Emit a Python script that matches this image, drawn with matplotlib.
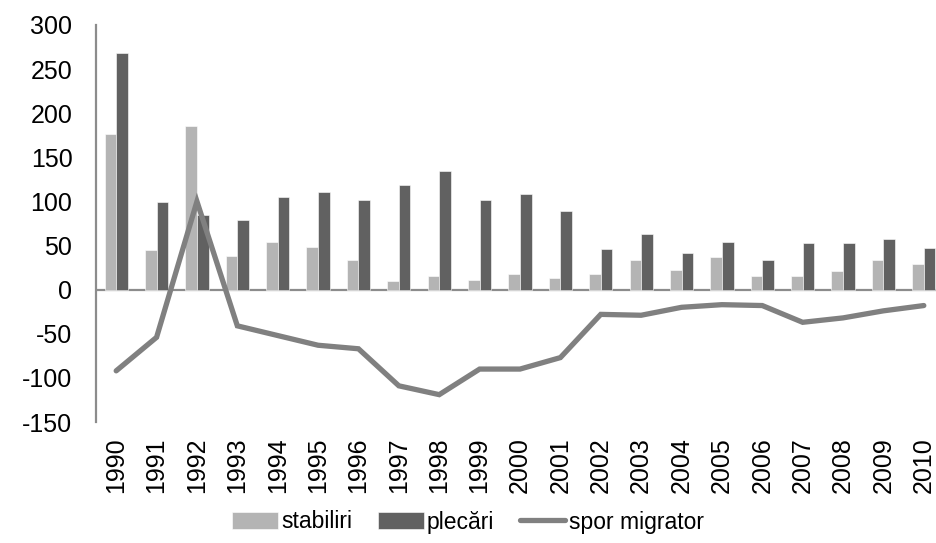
import numpy as np
import matplotlib; matplotlib.use("Agg")
import matplotlib.pyplot as plt

plt.rcParams['font.family'] = ['Liberation Sans', 'DejaVu Sans']
plt.rcParams['axes.unicode_minus'] = False

years = [str(y) for y in range(1990, 2011)]
stabiliri = [176, 45, 185, 38, 54, 48, 34, 10, 15, 11, 18, 13, 18, 34, 22, 37, 15, 16, 21, 34, 29]
plecari = [268, 99, 85, 79, 105, 111, 102, 119, 134, 102, 109, 89, 46, 63, 41, 54, 34, 53, 53, 57, 47]
spor = [-92, -54, 100, -41, -52, -63, -67, -109, -119, -90, -90, -77, -28, -29, -20, -17, -18, -37, -32, -24, -18]

LIGHT = "#b4b4b4"; DARK = "#616161"; LINE = "#808080"; AXC = "#8c8c8c"

fig = plt.figure(figsize=(9.37, 5.43), dpi=100)
ax = fig.add_axes([96/937, 1-422/543, (944-96)/937, (422-25)/543])
x = np.arange(len(years)); w = 0.288
b1 = ax.bar(x - w/2, stabiliri, w, color=LIGHT, edgecolor="white", linewidth=0.4, label="stabiliri", zorder=2)
b2 = ax.bar(x + w/2, plecari, w, color=DARK, edgecolor="white", linewidth=0.4, label="plecări", zorder=2)
l1, = ax.plot(x, spor, color=LINE, lw=3.8, solid_capstyle="round", solid_joinstyle="miter", label="spor migrator", zorder=3)
ax.axhline(0, color=AXC, lw=1.6, zorder=1)

ax.set_xlim(-0.5, len(years) - 0.5)
ax.set_ylim(-150, 300)
ax.set_yticks(range(-150, 301, 50))
ax.set_xticks(x)
ax.set_xticklabels(years, rotation=90)
ax.tick_params(axis="y", length=0, pad=17, labelsize=18)
ax.tick_params(axis="x", length=0, pad=11, labelsize=18)
for s in ["top", "right", "bottom"]:
    ax.spines[s].set_visible(False)
ax.spines["left"].set_color(AXC); ax.spines["left"].set_linewidth(1.6)

fig.legend(handles=[b1, b2, l1], loc="center", bbox_to_anchor=(468/937, 1-522/543), ncol=3, frameon=False,
           fontsize=16.5, handlelength=2.0, handletextpad=0.15, columnspacing=1.1, borderpad=0)
fig.savefig("out.png", dpi=100)
